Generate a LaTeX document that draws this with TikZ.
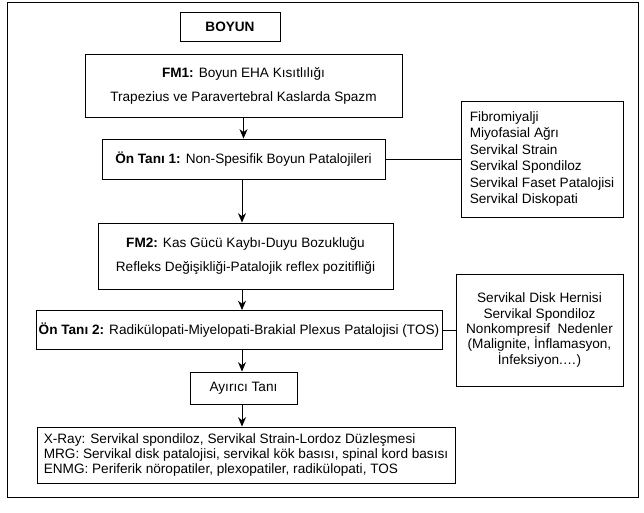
\documentclass[tikz,border=0pt]{standalone}
\usepackage{fontspec}
\setmainfont{Liberation Sans}
\usetikzlibrary{arrows.meta}

\begin{document}
\begin{tikzpicture}[x=0.75pt,y=-0.75pt,line width=0.7pt,
	kutu/.style={draw,rectangle,inner sep=2pt,font=\fontsize{10.2}{12.3}\selectfont},
	ikisatir/.style={kutu,align=center,font=\fontsize{10.2}{18}\selectfont},
	ok/.style={-{Stealth[length=7pt,width=6pt,inset=2.2pt]}}]
	\useasboundingbox (0,0) rectangle (644,513);
	\draw (7,2) rectangle (638,497);

	\node[kutu,minimum width=75pt,minimum height=21.75pt] (boyun) at (230,26.5) {\textbf{BOYUN}};
	\node[ikisatir,minimum width=237.75pt,minimum height=47.25pt] (fm1) at (243.5,85.5)
		{\textbf{FM1:} Boyun EHA Kısıtlılığı\\Trapezius ve Paravertebral Kaslarda Spazm};
	\node[kutu,minimum width=212.25pt,minimum height=30pt] (on1) at (243.5,159)
		{\textbf{Ön Tanı 1:} Non-Spesifik Boyun Patalojileri};
	\node[kutu,align=left,minimum width=121.5pt,minimum height=87pt] (liste1) at (542,159)
		{Fibromiyalji\\Miyofasial Ağrı\\Servikal Strain\\Servikal Spondiloz\\Servikal Faset Patalojisi\\Servikal Diskopati};
	\node[ikisatir,minimum width=221.25pt,minimum height=49.5pt] (fm2) at (245.5,256)
		{\textbf{FM2:} Kas Gücü Kaybı-Duyu Bozukluğu\\Refleks Değişikliği-Patalojik reflex pozitifliği};
	\node[kutu,minimum width=304.5pt,minimum height=29.25pt] (on2) at (239,330)
		{\textbf{Ön Tanı 2:} Radikülopati-Miyelopati-Brakial Plexus Patalojisi (TOS)};
	\node[kutu,align=center,font=\fontsize{10.2}{11.6}\selectfont,minimum width=125.25pt,minimum height=84pt] (liste2) at (539.5,330)
		{Servikal Disk Hernisi\\Servikal Spondiloz\\Nonkompresif~ Nedenler\\(Malignite, İnflamasyon,\\İnfeksiyon.…)};
	\node[kutu,minimum width=80.25pt,minimum height=24pt] (ayirici) at (243.5,388) {Ayırıcı Tanı};
	\node[kutu,align=left,font=\fontsize{10.2}{10.9}\selectfont,minimum width=313.5pt,minimum height=42pt] (tetkik) at (246,455)
		{X-Ray: Servikal spondiloz, Servikal Strain-Lordoz Düzleşmesi\\MRG: Servikal disk patalojisi, servikal kök basısı, spinal kord basısı\\ENMG: Periferik nöropatiler, plexopatiler, radikülopati, TOS};

	\path[ok] (fm1) edge (fm1 |- on1.north);
	\path[ok] (on1.south -| 242,0) edge (fm2.north -| 242,0);
	\path[ok] (fm2.south -| 242,0) edge (on2.north -| 242,0);
	\path[ok] (on2.south -| 242,0) edge (ayirici.north -| 242,0);
	\path[ok] (ayirici.south -| 242,0) edge (tetkik.north -| 242,0);
	\path[-] (on1) edge (liste1);
	\path[-] (on2) edge (liste2);
\end{tikzpicture}
\end{document}
